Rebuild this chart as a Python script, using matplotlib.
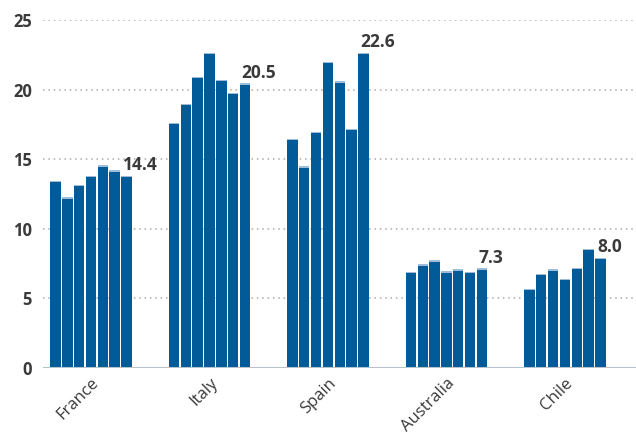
import numpy as np
import matplotlib.pyplot as plt

# data
countries = ["France", "Italy", "Spain", "Australia", "Chile"]
france = [13.45, 12.25, 13.15, 13.8, 14.55, 14.2, 13.8]
italy = [17.6, 19.0, 20.9, 22.65, 20.7, 19.75, 20.45]
spain = [16.45, 14.5, 16.95, 22.0, 20.6, 17.2, 22.65]
australia = [6.9, 7.45, 7.75, 6.95, 7.1, 6.9, 7.15]
chile = [5.7, 6.75, 7.1, 6.4, 7.2, 8.55, 7.9]
end_labels = ["14.4", "20.5", "22.6", "7.3", "8.0"]
yticks = [0, 5, 10, 15, 20, 25]

BLUE = "#005b98"
TXT = "#3a3a3a"

plt.rcParams['font.family'] = ['Open Sans', 'DejaVu Sans']

fig = plt.figure(figsize=(6.36, 4.36), dpi=100)
ax = fig.add_axes([43 / 636, 1 - 368 / 436, 1 - 43 / 636, 348 / 436])

series = [france, italy, spain, australia, chile]
group_gap = 10
for i, vals in enumerate(series):
    xs = i * group_gap + np.arange(len(vals)) - 3
    ax.bar(xs, vals, width=0.88, color=BLUE, linewidth=0.0, zorder=3)
    # light cap on top of each bar
    ax.bar(xs, [0.1] * len(vals), bottom=np.array(vals) - 0.1, width=0.88,
           color="#9dbddb", zorder=4)
    ax.text(xs[-1] - 0.3, vals[-1] + 0.12, end_labels[i], fontsize=12.5,
            fontweight="bold", color=TXT, ha="left", va="bottom", zorder=5)

ax.set_xlim(-4.05, 46.0)
ax.set_ylim(0, 25)
ax.set_yticks(yticks)
ax.set_yticklabels([str(t) for t in yticks], fontsize=12, fontweight="bold",
                   color=TXT)
ax.set_xticks([i * group_gap for i in range(len(countries))])
ax.set_xticklabels(countries, rotation=45, ha="right", rotation_mode="anchor",
                   fontsize=12, color=TXT)
ax.tick_params(axis="y", length=0, pad=8)
ax.tick_params(axis="x", length=0, pad=5)

for t in yticks[1:]:
    ax.axhline(t, color="#aaaaaa", linestyle=(0, (1, 2.5)), linewidth=1.1,
               zorder=1)
ax.axhline(0, color="#b7c3cb", linewidth=2.2, zorder=4)

for s in ax.spines.values():
    s.set_visible(False)

fig.savefig("out.png", dpi=100)
